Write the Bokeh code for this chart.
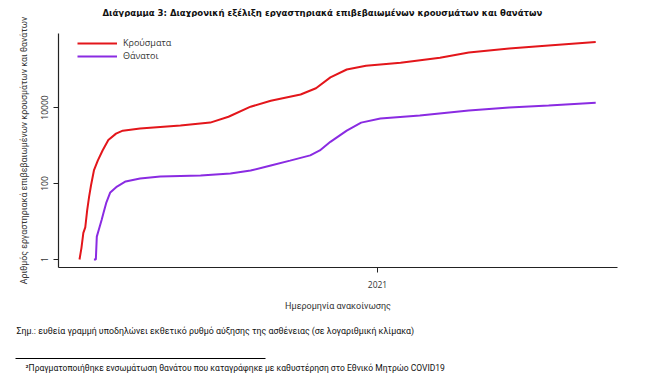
from datetime import datetime, timedelta
from bokeh.plotting import figure
from bokeh.layouts import column
from bokeh.models import Range1d, FixedTicker, Legend, LegendItem
from bokeh.embed import file_html
from bokeh.resources import INLINE

# ---------------- data ----------------
case_dates = ["2020-02-26", "2020-02-28", "2020-03-01", "2020-03-03", "2020-03-05",
              "2020-03-07", "2020-03-09", "2020-03-12", "2020-03-16", "2020-03-21",
              "2020-03-27", "2020-04-04", "2020-04-11", "2020-04-29", "2020-06-10",
              "2020-07-11", "2020-07-30", "2020-08-22", "2020-09-12", "2020-10-13",
              "2020-10-29", "2020-11-13", "2020-11-30", "2020-12-20", "2021-01-25",
              "2021-03-07", "2021-04-06", "2021-05-18", "2021-06-28", "2021-08-16"]
case_values = [1, 2, 5, 7, 20, 45, 90, 220, 400, 740, 1400, 2050, 2450, 2800, 3350,
               4000, 5700, 10500, 15000, 22000, 32000, 62000, 100000, 125000, 150000,
               205000, 280000, 355000, 425000, 530000]

death_dates = ["2020-03-12", "2020-03-14", "2020-03-15", "2020-03-17", "2020-03-20",
               "2020-03-22", "2020-03-25", "2020-03-29", "2020-04-05", "2020-04-14",
               "2020-04-29", "2020-05-20", "2020-07-01", "2020-08-01", "2020-08-22",
               "2020-09-12", "2020-10-02", "2020-10-23", "2020-11-02", "2020-11-13",
               "2020-11-30", "2020-12-15", "2021-01-04", "2021-02-14", "2021-04-06",
               "2021-05-18", "2021-06-28", "2021-08-16"]
death_values = [1, 1, 4, 6, 11, 17, 32, 58, 83, 113, 135, 153, 162, 183, 219, 298, 400,
                550, 740, 1250, 2470, 4000, 5130, 6160, 8330, 10000, 11300, 13300]

series_names = ["Κρούσματα", "Θάνατοι"]
series_colors = ["#E3161B", "#8A2BE2"]

y_ticks = [1, 100, 10000]
y_tick_labels = ["1", "100", "10000"]
x_tick_date = "2021-01-01"
x_tick_label = "2021"

title_text = "Διάγραμμα 3: Διαχρονική εξέλιξη εργαστηριακά επιβεβαιωμένων κρουσμάτων και θανάτων"
y_label_text = "Αριθμός εργαστηριακά επιβεβαιωμένων κρουσμάτων και θανάτων"
x_label_text = "Ημερομηνία ανακοίνωσης"
note_text = "Σημ.: ευθεία γραμμή υποδηλώνει εκθετικό ρυθμό αύξησης της ασθένειας (σε λογαριθμική κλίμακα)"
foot_text = "²Πραγματοποιήθηκε ενσωμάτωση θανάτου που καταγράφηκε με καθυστέρηση στο Εθνικό Μητρώο COVID19"

# ---------------- layout constants ----------------
W = 636
H0 = 17      # header (title) strip
H1 = 298     # main chart
H2 = 60      # notes strip
FRAME_L, FRAME_R, FRAME_T, FRAME_B = 58, 617, 33, 267


def to_dt(s):
    return datetime.strptime(s, "%Y-%m-%d")


def blank(height, y0):
    f = figure(width=W, height=height, x_range=Range1d(0, W),
               y_range=Range1d(y0 + height, y0), output_backend="svg",
               toolbar_location=None, title=None,
               min_border_left=0, min_border_right=0, min_border_top=0, min_border_bottom=0)
    f.frame_align = False
    f.axis.visible = False
    f.grid.visible = False
    f.outline_line_color = None
    return f


# ---------------- header ----------------
h = blank(H0, 0)
h.text(x=[102], y=[12], text=[title_text], text_baseline="middle", text_align="left",
       text_font={"value": "DejaVu Sans Condensed"}, text_font_size="9.5px",
       text_font_style="bold", text_color="#111111")

# ---------------- main chart ----------------
ref = to_dt(x_tick_date)
px_per_day = 298 / 310.0
x_start = ref - timedelta(days=(377 - FRAME_L) / px_per_day)
x_end = ref + timedelta(days=(FRAME_R - 377) / px_per_day)

p = figure(width=W, height=H1, x_axis_type="datetime", y_axis_type="log",
           x_range=Range1d(x_start, x_end),
           y_range=Range1d(10 ** -0.2105, 10 ** 5.947),
           output_backend="svg", toolbar_location=None, title=None,
           min_border_left=FRAME_L, min_border_right=W - FRAME_R,
           min_border_top=FRAME_T - H0, min_border_bottom=H0 + H1 - FRAME_B)
p.frame_align = False
p.outline_line_color = None
p.xgrid.visible = False
p.ygrid.visible = False

r_cases = p.line(x=[to_dt(d) for d in case_dates], y=case_values,
                 line_color=series_colors[0], line_width=2)
r_deaths = p.line(x=[to_dt(d) for d in death_dates], y=death_values,
                  line_color=series_colors[1], line_width=2)

xa = p.xaxis[0]
ya = p.yaxis[0]
ms = (ref - datetime(1970, 1, 1)).total_seconds() * 1000
xa.ticker = FixedTicker(ticks=[ms])
xa.major_label_overrides = {ms: x_tick_label}
ya.ticker = FixedTicker(ticks=y_ticks)
ya.major_label_overrides = {t: l for t, l in zip(y_ticks, y_tick_labels)}
for ax in (xa, ya):
    ax.axis_line_color = "#222222"
    ax.axis_line_width = 1.2
    ax.major_tick_line_color = "#222222"
    ax.major_tick_out = 5
    ax.major_tick_in = 0
    ax.minor_tick_line_color = None
    ax.major_label_text_font = "Open Sans"
    ax.major_label_text_font_size = "8.5px"
    ax.major_label_text_color = "#333333"
    ax.axis_label_text_font = "Roboto"
    ax.axis_label_text_font_style = "normal"
    ax.axis_label_text_color = "#333333"
ya.major_label_orientation = "vertical"
ya.major_label_standoff = 5
xa.major_label_standoff = 8
ya.axis_label = y_label_text
ya.axis_label_text_font_size = "8.8px"
ya.axis_label_standoff = 10
xa.axis_label = x_label_text
xa.axis_label_text_font_size = "9px"
xa.axis_label_standoff = 10

legend = Legend(items=[LegendItem(label=series_names[0], renderers=[r_cases]),
                       LegendItem(label=series_names[1], renderers=[r_deaths])],
                location=(19, 205), padding=0, margin=0, spacing=0,
                glyph_width=40, glyph_height=10, label_height=10,
                label_standoff=6, label_text_font="Open Sans",
                label_text_font_size="9px", label_text_color="#333333",
                border_line_alpha=0, background_fill_alpha=0)
p.add_layout(legend)

# ---------------- notes ----------------
n = blank(H2, H0 + H1)
n.text(x=[16], y=[330], text=[note_text], text_baseline="middle", text_align="left",
       text_font={"value": "Roboto"}, text_font_size="8.8px", text_color="#111111")
n.line(x=[15, 265], y=[358, 358], line_color="black", line_width=1)
n.text(x=[25], y=[367], text=[foot_text], text_baseline="middle", text_align="left",
       text_font={"value": "Roboto"}, text_font_size="8.5px", text_color="#111111")

open("out.html", "w").write(file_html(column(h, p, n, spacing=0), INLINE))
